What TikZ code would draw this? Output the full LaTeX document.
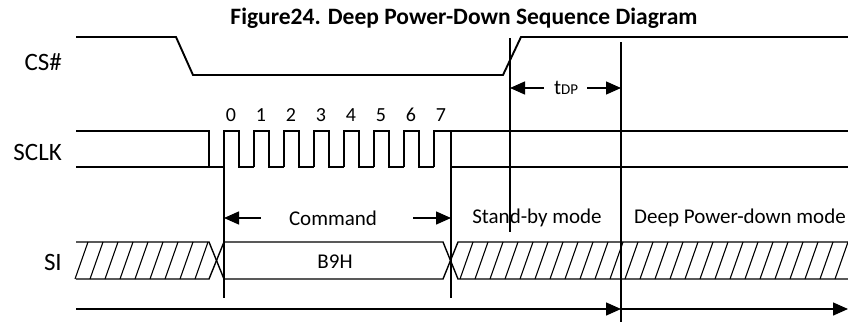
\documentclass[tikz,border=0pt]{standalone}
\usepackage{fontspec}
\setmainfont{Carlito}
\usetikzlibrary{arrows.meta, calc}
\tikzset{
  signal/.style={line width=1.4pt, black},
  csline/.style={line width=1.9pt, black},
  guide/.style={line width=1.4pt},
  guidebold/.style={line width=2.3pt},
  hatchline/.style={line width=1.1pt},
  dimarrow/.style={-{Triangle[length=15pt,width=13pt]}, line width=1.4pt},
  siglabel/.style={font=\fontsize{25}{28}\selectfont, anchor=east, inner sep=0pt},
  bitlabel/.style={font=\fontsize{20}{22}\selectfont, inner sep=0pt},
  modelabel/.style={font=\fontsize{21}{24}\selectfont, inner sep=2pt},
  figtitle/.style={font=\bfseries\fontsize{23.5}{26}\selectfont, inner sep=0pt}
}
\begin{document}
\begin{tikzpicture}[x=1pt, y=-1pt]
\useasboundingbox (0,0) rectangle (848,322);

% ═══════════════════════════════════════════════════════════════════
% TITLE AND SIGNAL NAMES
% ═══════════════════════════════════════════════════════════════════
\node[figtitle] (title) at (464,18) {Figure24. Deep Power-Down Sequence Diagram};

\node[siglabel] (lcs)   at (62,62)  {CS\#};
\node[siglabel] (lsclk) at (62,152) {SCLK};
\node[siglabel] (lsi)   at (62,262) {SI};

% ── time marks ───────────────────────────────────────────────────
\coordinate (tstart) at (224,131);
\coordinate (tend)   at (451,131);
\coordinate (tcs)    at (510,38);
\coordinate (tdeep)  at (621,42);

% ═══════════════════════════════════════════════════════════════════
% CS#
% ═══════════════════════════════════════════════════════════════════
\draw[csline] (76,37) -- (176,37) -- (193,75) -- (503,75) -- (521,37) -- (848,37);

% ═══════════════════════════════════════════════════════════════════
% SCLK
% ═══════════════════════════════════════════════════════════════════
\draw[signal] (76,131) -- (209,131) -- (209,167);
\draw[signal] (76,167) -- (224,167);
\foreach \k in {0,...,6} {
  \draw[signal] ({224+30*\k},167) -- ++(0,-36) -- ++(15,0) -- ++(0,36) -- ++(15,0);
}
\draw[signal] (434,167) -- (434,131) -- (848,131);
\draw[signal] (451,131) -- (451,167) -- (848,167);

\foreach \k in {0,...,7} {
  \node[bitlabel] (bit\k) at ({231+30*\k},115) {\k};
}

% ═══════════════════════════════════════════════════════════════════
% SI
% ═══════════════════════════════════════════════════════════════════
\draw[signal] (76,242) -- (209,242) -- (224,279) -- (443,279) -- (458,242) -- (848,242);
\draw[signal] (76,279) -- (209,279) -- (224,242) -- (443,242) -- (458,279) -- (848,279);

% ── don't care hatching ──────────────────────────────────────────
\foreach \x in {75,90,...,195} {
  \draw[hatchline] (\x,279) -- ++(13,-37);
}
\foreach \x in {460,475,...,835} {
  \draw[hatchline] (\x,279) -- ++(13,-37);
}

\node[modelabel] (opcode) at (335,262) {B9H};

% ═══════════════════════════════════════════════════════════════════
% GUIDE LINES
% ═══════════════════════════════════════════════════════════════════
\draw[guide]     (tstart) -- (tstart |- 0,298);
\draw[guide]     (tend)   -- (tend |- 0,298);
\draw[guide]     (tcs)    -- (tcs |- 0,232);
\draw[guidebold] (tdeep)  -- (tdeep |- 0,322);

% ═══════════════════════════════════════════════════════════════════
% TIMING ANNOTATIONS
% ═══════════════════════════════════════════════════════════════════
\node[modelabel] (tdp) at (566,88) {t{\fontsize{15}{17}\selectfont DP}};
\draw[dimarrow] ([xshift=-8pt]tdp.west) -- (tdp.west -| tcs);
\draw[dimarrow] ([xshift=7pt]tdp.east)  -- (tdp.east -| tdeep);

\node[modelabel] (cmd) at (333,218) {Command};
\draw[dimarrow] ([xshift=-26pt]cmd.west) -- (cmd.west -| tstart);
\draw[dimarrow] ([xshift=34pt]cmd.east)  -- (cmd.east -| tend);

\node[modelabel] (standby) at (537,218) {Stand-by mode};
\node[modelabel] (deepmode) at (740,218) {Deep Power-down mode};

% ── mode spans ───────────────────────────────────────────────────
\coordinate (spanleft)  at (76,309);
\coordinate (spanright) at (848,309);
\draw[dimarrow] (spanleft) -- (spanleft -| tdeep);
\draw[dimarrow] (spanleft -| tdeep) -- (spanright);

\end{tikzpicture}
\end{document}
